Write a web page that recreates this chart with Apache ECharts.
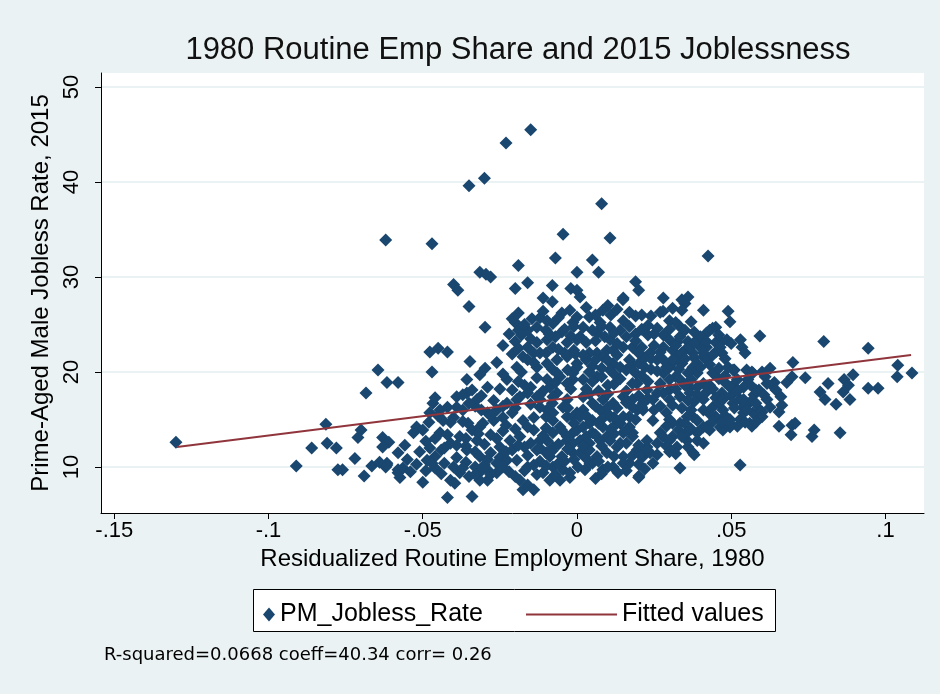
<!DOCTYPE html>
<html>
<head>
<meta charset="utf-8">
<script src="https://cdn.jsdelivr.net/npm/echarts@6/dist/echarts.min.js"></script>
<style>
html, body { margin: 0; padding: 0; background: #eaf2f3; }
#chart { width: 940px; height: 694px; }
</style>
</head>
<body>
<div id="chart"></div>
<script>
// axis ticks
const xTicks = [-0.15, -0.1, -0.05, 0, 0.05, 0.1];
const xTickLabels = ['-.15', '-.1', '-.05', '0', '.05', '.1'];
const yTicks = [10, 20, 30, 40, 50];

// points: [routine share residual, jobless rate]
const outliers = [
  [-0.015,45.5],[-0.023,44.1],[-0.030,40.4],[-0.035,39.6],[0.008,37.7],[-0.062,33.9],[-0.047,33.5],
  [-0.0045,34.5],[0.0107,34.1],[-0.007,32.0],[0.0425,32.2],[-0.019,31.2],[0.005,31.8],[0.007,30.5],
  [0.000,30.5],[-0.0315,30.5],[-0.0295,30.3],[-0.028,30.0],[-0.040,29.2],[-0.0386,28.6],[-0.020,28.8],
  [-0.016,29.4],[-0.008,29.1],[-0.002,28.8],[0.000,28.6],[0.019,29.5],[0.020,28.6],[0.015,27.8],
  [-0.011,27.8],[0.028,27.8],[0.034,27.6],[0.036,27.9]
];

const farLeft = [
  [-0.130,12.6],[-0.0645,20.2],[-0.0616,18.9],[-0.058,18.9],[-0.0684,17.8],[-0.0814,14.5],[-0.070,13.9],
  [-0.071,13.1],[-0.063,13.1],[-0.061,12.6],[-0.063,12.1],[-0.086,12.0],[-0.081,12.5],[-0.078,12.0],
  [-0.072,10.9],[-0.091,10.1],[-0.0775,9.7],[-0.076,9.7],[-0.069,9.05],[-0.0665,10.1],[-0.062,10.0],
  [-0.0616,10.4],[-0.058,9.4],[-0.064,10.5],[-0.0616,10.2],[-0.058,9.7],[-0.0564,9.9],[-0.0574,8.9],
  [-0.0558,12.3],[-0.058,11.5],[-0.055,10.8]
];

const cloudLeft = [
  [-0.054,9.5],[-0.050,8.4],[-0.041,8.6],[-0.0396,8.3],[-0.042,6.8],[-0.034,6.9],[-0.029,8.6],
  [-0.052,10.3],[-0.049,9.6],[-0.046,9.9],[-0.043,10.4],[-0.044,11.8],[-0.041,12.5],[-0.039,11.0],
  [-0.036,10.5],[-0.033,10.0],[-0.038,9.4],[-0.035,9.0],[-0.031,9.6],[-0.033,11.6],[-0.030,12.4],
  [-0.028,13.4],[-0.024,13.8],[-0.025,11.0],[-0.022,9.5],
  [-0.0467,16.7],[-0.0444,16.0],[-0.0477,15.7],[-0.052,14.2],[-0.050,13.9],[-0.053,13.6],[-0.0434,14.9],
  [-0.041,14.7],[-0.0444,13.6],[-0.051,11.6],[-0.0477,12.0],[-0.046,11.1],[-0.0486,10.7],
  [-0.038,13.2],[-0.039,12.3],[-0.0357,11.8],[-0.0324,12.8],[-0.034,13.9],[-0.0315,14.2],[-0.0353,14.6],
  [-0.039,17.4],[-0.0357,17.8],[-0.0324,17.1],[-0.037,16.0],[-0.029,15.7],[-0.026,16.0],[-0.027,14.9],
  [-0.0305,14.6],[-0.0315,11.1],[-0.028,11.5],[-0.025,12.1],[-0.0217,12.8],[-0.026,10.4],[-0.0227,10.7],
  [-0.029,9.7],[-0.026,9.4],[-0.0315,8.6],[-0.021,11.8],
  [-0.0477,22.1],[-0.045,22.5],[-0.042,22.1],[-0.0347,21.1],[-0.0298,20.4],[-0.0315,19.7],[-0.047,20.0],
  [-0.046,17.3],[-0.0357,19.2],[-0.034,18.1],[-0.029,18.4],[-0.037,17.6],[-0.035,26.9],[-0.0298,24.7],
  [-0.040,15.2],[-0.037,14.8],[-0.033,16.4],[-0.031,17.5],[-0.027,17.0],[-0.025,18.2],[-0.028,15.4],
  [-0.024,15.2],[-0.0227,16.7],[-0.021,15.7],[-0.0227,19.2],[-0.021,18.1],[-0.026,21.0],[-0.024,19.8],
  [-0.024,22.8],[-0.022,24.0],
  [-0.048,14.7],[-0.045,15.4],[-0.042,16.3],[-0.039,16.3],[-0.035,16.7],[-0.031,16.0],[-0.024,16.4],
  [-0.046,13.0],[-0.042,13.4],[-0.036,13.0],[-0.032,13.5],[-0.026,13.0],[-0.023,14.4],[-0.049,12.7],
  [-0.043,12.0],[-0.036,12.2],[-0.029,10.8],[-0.023,11.6],[-0.047,10.4],[-0.040,10.0],[-0.037,9.9],
  [-0.030,10.2],[-0.024,10.0],[-0.044,9.3],[-0.033,9.2],[-0.028,9.2]
];

const cloudCenter = [
  [-0.019,26.2],[-0.020,25.2],[-0.019,24.4],[-0.0146,25.6],[-0.012,25.7],[-0.0097,25.4],[-0.013,24.7],
  [-0.016,24.4],[-0.010,24.4],[-0.0078,25.1],[-0.0049,26.2],[-0.0023,26.5],[0.000,25.8],[-0.0013,25.2],
  [-0.0049,24.2],[0.001,27.9],[-0.008,27.4],
  [-0.016,22.6],[-0.013,23.1],[-0.0097,23.4],[-0.0175,21.6],[-0.012,22.0],[-0.0078,22.6],[-0.0032,23.1],
  [0.000,23.4],[-0.0195,20.5],[-0.016,21.3],[-0.013,20.5],[-0.0097,20.9],[-0.0065,21.3],[-0.0032,21.6],
  [0.000,20.9],[-0.015,18.4],[-0.0097,19.2],[-0.0055,19.5],[-0.0013,19.2],[-0.0185,17.4],[-0.012,17.6],
  [-0.0065,17.8],[-0.020,23.2],[-0.018,23.9],[-0.021,21.9],[-0.014,22.0],[-0.006,22.4],[-0.004,24.5],
  [-0.007,23.7],[-0.001,24.8],[-0.018,20.0],[-0.008,20.3],[-0.003,20.2],[-0.011,18.0],
  [-0.0195,17.1],[-0.016,17.8],[-0.013,17.4],[-0.0175,14.9],[-0.0185,13.2],[-0.0195,10.7],[-0.016,10.0],
  [-0.015,12.5],[-0.013,11.8],[-0.014,13.9],[-0.0185,8.6],[-0.016,8.1],[-0.014,7.6],[-0.0175,7.6],
  [-0.011,9.4],[-0.0088,8.6],[-0.0078,10.0],[-0.0045,9.7],[-0.0023,8.9],[-0.0055,8.6],[-0.0097,16.0],
  [-0.0078,14.9],[-0.0055,14.2],[-0.0032,15.3],[0.000,15.7],[-0.0097,12.8],[-0.0078,12.1],[-0.0032,12.8],
  [-0.0013,13.6],[-0.0088,11.1],[-0.0049,11.1],[-0.0013,11.5],[0.0003,10.0],[-0.012,17.1],[-0.0078,17.4],
  [-0.0032,17.1],[-0.020,9.0],[-0.012,10.6],[-0.010,11.5],[-0.014,10.2],[-0.006,12.4],[-0.004,10.6],
  [-0.0065,19.9],[-0.0088,18.4],[-0.0032,18.8],[0.000,20.5],[0.003,21.3],[0.0065,22.0],[0.0097,22.3],
  [0.0117,20.9],[0.016,20.2],[-0.012,16.3],[-0.0078,15.7],[-0.0045,16.3],[-0.0013,15.3],[0.002,16.0],
  [0.005,14.9],[0.0097,15.7],[0.014,14.6],[0.017,15.3],[0.018,13.6],[0.014,12.5],[0.0097,13.2],
  [0.005,13.6],[0.001,12.8],[-0.0032,13.2],[-0.0078,13.6],[-0.012,12.8],
  [0.0149,27.6],[0.010,27.0],[0.0084,26.5],[0.019,25.9],[0.004,25.8],[0.0075,25.2],[0.0107,24.7],
  [0.002,24.7],[0.0065,24.1],[0.0107,23.4],[0.014,24.4],[0.016,23.7],[0.003,23.1],[-0.001,22.3],
  [0.004,22.0],[0.0084,21.6],[0.0117,22.3],[0.015,22.6],[0.018,22.6],[0.017,21.3],[0.014,20.5],
  [0.0107,20.2],[0.0065,19.5],[0.002,19.2],[-0.0013,19.9],[0.0195,18.8],
  [0.001,15.3],[0.004,14.6],[0.000,13.9],[0.003,13.2],[0.0075,16.0],[0.0107,15.3],[0.0084,14.2],
  [0.013,14.6],[0.015,15.3],[0.017,14.2],[0.0195,16.0],[-0.0013,12.5],[0.001,11.5],[0.004,11.8],
  [0.0065,11.1],[0.0097,11.5],[0.013,12.1],[0.015,11.1],[0.017,10.4],[0.0117,10.0],[0.0084,9.7],
  [0.005,10.4],[0.0195,11.8],[0.020,8.9],[0.0133,9.4],[0.006,8.8],[0.0026,9.7],[-0.0023,9.4],
  [0.015,13.6],[0.018,13.2],[0.0075,12.8],[0.004,12.5],[0.0107,12.8],[0.002,17.4],[0.005,16.7],
  [0.0084,17.1],[0.0117,16.7],[0.015,17.4],[0.018,17.1],
  [0.005,20.6],[0.008,19.5],[0.012,18.7],[0.016,18.0],[0.018,20.8],[0.009,23.7],[0.013,23.0],
  [0.019,24.0],[0.005,24.4],[0.002,21.8],[0.011,26.0],[0.015,25.4],[0.003,18.2],[0.007,18.0],
  [0.013,16.2],[0.018,16.3],[0.015,10.4],[0.0042,10.4],
  [-0.021,25.6],[-0.017,25.0],[-0.011,26.4],[-0.006,25.7],[-0.002,23.8],[-0.009,24.0],[-0.015,23.5],
  [-0.019,22.5],[-0.010,22.0],[-0.004,22.0],[-0.0005,21.9],[-0.014,21.0],[-0.019,19.0],[-0.013,19.4],
  [-0.007,18.9],[-0.002,18.2],[-0.017,18.6],[-0.008,16.7],[-0.015,16.6],[-0.020,16.2],[-0.003,16.2],
  [-0.010,15.3],[-0.014,15.2],[-0.001,14.6],[-0.005,13.9],[-0.010,14.1],[-0.016,14.2],[-0.020,14.0],
  [-0.011,13.3],[-0.017,12.1],[-0.003,11.9],[-0.008,11.7],[-0.012,12.0],[-0.016,11.2],[-0.019,12.3],
  [-0.001,10.8],[-0.006,10.4],[-0.010,10.1],[-0.017,9.6],[-0.013,9.2],[-0.007,9.2],
  [0.003,26.8],[0.006,26.0],[0.013,26.6],[0.017,26.3],[0.008,24.8],[0.012,24.1],[0.017,24.8],
  [0.001,23.7],[0.006,23.3],[0.019,23.3],[0.006,21.3],[0.010,21.2],[0.013,21.8],[0.004,20.0],
  [0.008,20.4],[0.012,19.8],[0.019,19.9],[0.005,19.0],[0.010,18.6],[0.014,19.3],[0.018,18.8],
  [0.004,17.7],[0.010,17.7],[0.006,16.4],[0.010,16.3],[0.016,16.8],[0.003,15.4],[0.008,15.0],
  [0.012,15.2],[0.019,15.0],[0.007,14.6],[0.011,14.0],[0.016,13.9],[0.002,14.2],[0.006,13.4],
  [0.012,13.5],[0.002,12.2],[0.008,12.2],[0.016,12.5],[0.003,10.9],[0.007,10.6],[0.012,11.1],
  [0.018,11.2],[0.010,10.0],[0.008,9.3],[0.016,9.6]
];

const cloudRight = [
  [0.027,26.3],[0.030,25.4],[0.035,27.2],[0.034,26.5],[0.041,26.5],[0.037,25.3],[0.021,26.0],[0.0279,26.4],
  [0.023,24.9],[0.026,24.6],[0.028,23.9],[0.030,23.4],[0.023,23.9],[0.025,22.8],[0.027,22.1],
  [0.0334,23.7],[0.036,23.2],[0.035,22.3],[0.0324,21.6],[0.030,20.5],[0.028,19.9],[0.034,20.9],
  [0.0376,22.0],[0.040,22.6],[0.043,24.4],[0.045,24.7],[0.042,22.6],[0.041,21.6],[0.0376,20.5],
  [0.045,23.1],[0.047,22.0],[0.0486,23.4],[0.042,24.1],[0.040,23.7],[0.044,24.6],[0.047,23.2],
  [0.0464,22.6],[0.045,22.1],[0.039,19.9],[0.041,18.8],[0.0366,18.4],[0.0334,19.2],[0.030,18.1],
  [0.026,17.8],[0.0227,18.1],
  [0.020,20.9],[0.0237,22.0],[0.028,22.6],[0.031,22.3],[0.0334,21.3],[0.0366,22.6],[0.039,20.9],
  [0.042,21.3],[0.044,19.9],[0.0214,16.0],[0.0246,14.9],[0.029,15.7],[0.0334,14.6],[0.0376,15.3],
  [0.041,16.0],[0.045,15.3],[0.042,14.2],[0.039,13.6],[0.0357,12.8],[0.031,13.2],[0.027,13.6],
  [0.0227,12.8],[0.0214,16.7],[0.0246,17.1],[0.028,17.8],[0.030,17.1],[0.0334,17.4],[0.0366,17.8],
  [0.041,17.1],[0.044,16.3],[0.0473,16.0],[0.0227,12.1],[0.0214,11.1],[0.0246,10.4],[0.0237,11.5],
  [0.030,12.8],[0.0324,12.1],[0.031,14.6],[0.0357,13.6],[0.039,12.8],[0.041,12.5],[0.043,13.9],
  [0.0357,15.3],[0.039,14.9],[0.041,14.2],[0.0464,14.2],[0.0486,14.6],
  [0.0334,9.9],[0.0201,9.05],[0.038,11.3],[0.0279,13.2],[0.0227,11.8],[0.0204,11.3],[0.0376,11.5],
  [0.021,19.6],[0.024,20.3],[0.026,21.3],[0.031,21.0],[0.022,21.5],[0.032,19.5],[0.036,19.9],
  [0.043,18.6],[0.046,19.3],[0.039,17.6],[0.047,17.8],[0.033,24.9],[0.038,24.2],[0.027,16.4],
  [0.034,16.2],[0.038,16.9],[0.045,17.3],[0.032,11.4],[0.029,12.2],
  [0.0324,23.1],[0.034,22.0],[0.031,21.3],[0.029,20.5],[0.040,20.5],[0.041,22.0],
  [0.024,25.9],[0.031,26.7],[0.032,25.2],[0.021,24.5],[0.025,24.0],[0.030,24.5],[0.035,24.4],
  [0.021,22.6],[0.032,22.8],[0.038,23.1],[0.020,22.0],[0.024,21.4],[0.028,21.3],[0.035,21.4],
  [0.038,21.5],[0.022,20.5],[0.026,20.1],[0.033,20.3],[0.037,19.2],[0.023,19.0],[0.027,18.8],
  [0.030,19.2],[0.035,18.6],[0.039,18.4],[0.020,17.5],[0.023,17.2],[0.032,18.2],[0.036,17.0],
  [0.021,16.3],[0.025,16.0],[0.031,16.5],[0.037,16.0],[0.030,15.0],[0.035,14.6],[0.029,14.3],
  [0.033,13.9],[0.037,14.0],[0.034,13.2],[0.020,12.3],[0.026,12.5],[0.036,12.1],[0.026,11.3],
  [0.030,11.6],[0.020,10.3],[0.022,9.8],
  [0.042,23.2],[0.046,23.9],[0.050,23.0],[0.044,21.8],[0.048,21.4],[0.043,20.8],[0.046,20.4],
  [0.048,19.6],[0.044,18.2],[0.048,18.9],[0.042,17.9],[0.046,16.7],[0.050,17.5],[0.043,15.6],
  [0.048,15.4],[0.044,14.8]
];

const tailRight = [
  [0.049,26.4],[0.0496,25.3],[0.0593,23.8],[0.053,23.4],[0.0535,22.6],[0.0545,22.0],[0.080,23.2],
  [0.0944,22.5],[0.070,21.0],[0.104,20.7],[0.1038,19.5],[0.1086,19.9],[0.074,19.4],[0.0814,18.8],
  [0.0788,17.9],[0.0804,17.1],[0.0866,19.2],[0.0895,19.7],[0.088,18.6],[0.0885,17.1],[0.0944,18.3],
  [0.0976,18.3],[0.049,20.5],[0.051,20.2],[0.0567,20.0],[0.0554,19.2],[0.0626,20.4],[0.061,19.5],
  [0.064,18.9],[0.068,18.9],[0.0697,19.5],[0.0506,18.6],[0.084,16.6],[0.0769,13.9],[0.0762,13.2],
  [0.0853,13.6],[0.0697,14.4],[0.0707,14.6],[0.0694,13.4],[0.0655,14.3],[0.0529,10.2],[0.0473,13.9],
  [0.0496,14.2],[0.047,14.7],[0.0529,15.0],[0.057,15.7],[0.0593,16.0],[0.0863,17.9],
  [0.0473,17.1],[0.0496,15.0],[0.0529,17.1],[0.0538,16.3],[0.056,16.8],[0.0574,17.6],[0.059,18.1],
  [0.0606,17.6],[0.0632,18.6],[0.0645,18.1],[0.0661,17.4],[0.0664,16.5],[0.0655,15.8],[0.060,15.8],
  [0.0587,15.2],[0.0567,14.3],[0.0545,14.7],[0.052,14.3],
  [0.0506,20.2],[0.055,20.2],[0.057,19.9],[0.060,20.0],[0.052,19.2],[0.0496,18.4],[0.054,18.4],
  [0.058,18.1],[0.0616,18.8],[0.0506,16.7],[0.054,17.1],[0.058,16.7],[0.0616,17.1],[0.054,15.7],
  [0.056,14.6],[0.060,15.3],[0.0626,16.3],
  [0.052,18.0],[0.056,18.7],[0.051,16.2],[0.055,16.0],[0.050,14.5],[0.058,14.7]
];

// fitted line endpoints as drawn
const fitX = [-0.1297, 0.1083];
const fitY = [12.1, 21.8];

const points = outliers.concat(farLeft, cloudLeft, cloudCenter, cloudRight, tailRight);
const FONT = '"Liberation Sans", Arial, sans-serif';

const chart = echarts.init(document.getElementById('chart'));

function xLabel(v) {
  for (let i = 0; i < xTicks.length; i++) {
    if (Math.abs(xTicks[i] - v) < 1e-9) return xTickLabels[i];
  }
  return '';
}

chart.setOption({
  backgroundColor: '#eaf2f3',
  animation: false,
  title: {
    text: '1980 Routine Emp Share and 2015 Joblessness',
    left: 513,
    top: 30,
    textAlign: 'center',
    textStyle: { fontFamily: FONT, fontSize: 31, fontWeight: 'normal', color: '#111' }
  },
  grid: {
    left: 101, top: 73, width: 823, height: 440,
    show: true, backgroundColor: '#ffffff', borderWidth: 0
  },
  legend: [
    {
      data: ['PM_Jobless_Rate'],
      left: 258, top: 597,
      itemWidth: 12, itemHeight: 14,
      selectedMode: false,
      textStyle: { fontFamily: FONT, fontSize: 25, color: '#000' }
    },
    {
      data: [{ name: 'Fitted values', icon: 'rect', itemStyle: { color: '#90353b' } }],
      left: 521, top: 597,
      itemWidth: 91, itemHeight: 2,
      selectedMode: false,
      textStyle: { fontFamily: FONT, fontSize: 25, color: '#000' }
    }
  ],
  xAxis: {
    type: 'value',
    min: -0.1543, max: 0.1125,
    name: 'Residualized Routine Employment Share, 1980',
    nameLocation: 'middle', nameGap: 34,
    nameTextStyle: { fontFamily: FONT, fontSize: 24, color: '#000' },
    axisLine: { show: true, onZero: false, lineStyle: { color: '#000', width: 1 } },
    axisTick: { show: true, length: 6, customValues: xTicks, lineStyle: { color: '#000' } },
    axisLabel: { customValues: xTicks, formatter: xLabel, fontFamily: FONT, fontSize: 22, color: '#000', margin: 7 },
    splitLine: { show: false }
  },
  yAxis: {
    type: 'value',
    min: 5.16, max: 51.47,
    name: 'Prime-Aged Male Jobless Rate, 2015',
    nameLocation: 'middle', nameGap: 40,
    nameTextStyle: { fontFamily: FONT, fontSize: 24, color: '#000' },
    axisLine: { show: true, onZero: false, lineStyle: { color: '#000', width: 1 } },
    axisTick: { show: true, length: 6, customValues: yTicks, lineStyle: { color: '#000' } },
    axisLabel: { customValues: yTicks, rotate: 90, fontFamily: FONT, fontSize: 22, color: '#000', margin: 18 },
    splitLine: { show: true, lineStyle: { color: '#eaf2f3', width: 2 } }
  },
  graphic: [
    {
      type: 'rect', left: 253, top: 589, z: 0,
      shape: { width: 522, height: 42 },
      style: { fill: '#ffffff', stroke: '#000', lineWidth: 1 }
    },
    {
      type: 'text', left: 104, top: 646,
      style: { text: 'R-squared=0.0668 coeff=40.34 corr= 0.26', fontFamily: '"DejaVu Sans"', fontSize: 18, fill: '#000' }
    }
  ],
  series: [
    {
      name: 'PM_Jobless_Rate',
      type: 'scatter',
      symbol: 'diamond',
      symbolSize: 13,
      itemStyle: { color: '#1a476f', opacity: 1 },
      data: points,
      z: 2
    },
    {
      name: 'Fitted values',
      type: 'line',
      symbol: 'none',
      itemStyle: { color: '#90353b' },
      lineStyle: { color: '#90353b', width: 2 },
      data: fitX.map((x, i) => [x, fitY[i]]),
      z: 3
    }
  ]
});
</script>
</body>
</html>
